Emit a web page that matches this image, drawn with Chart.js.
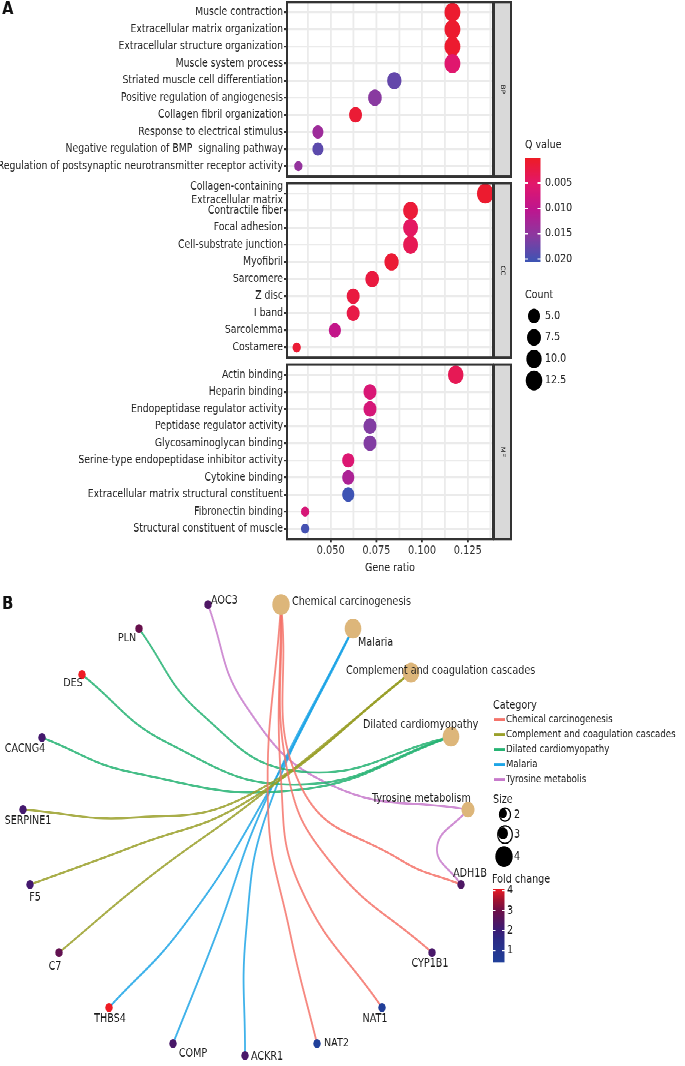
<!DOCTYPE html>
<html>
<head>
<meta charset="utf-8">
<script src="https://cdn.jsdelivr.net/npm/chart.js@4.4.1/dist/chart.umd.min.js"></script>
<style>
  html { margin: 0; padding: 0; background: #fff; overflow: hidden; }
  body { margin: 0; padding: 0; background: #fff; height: 1066px; }
  /* the original figure is stretched vertically by about 1.2 */
  #fig { position: relative; width: 685px; height: 888.33px; transform: scaleY(1.2); transform-origin: 0 0; }
  #chartA { position: absolute; left: 0; top: 0; }
  #chartB { position: absolute; left: 0; top: 483.33px; }
</style>
</head>
<body>
<div id="fig">
  <canvas id="chartA" width="685" height="485"></canvas>
  <canvas id="chartB" width="685" height="405"></canvas>
</div>
<script>
// ---------- Panel A: GO enrichment dot plot ----------
const bpTerms = ['Muscle contraction', 'Extracellular matrix organization', 'Extracellular structure organization',
  'Muscle system process', 'Striated muscle cell differentiation', 'Positive regulation of angiogenesis',
  'Collagen fibril organization', 'Response to electrical stimulus', 'Negative regulation of BMP  signaling pathway',
  'Regulation of postsynaptic neurotransmitter receptor activity'];
const bpRatio = [0.1166, 0.1166, 0.1166, 0.1166, 0.0848, 0.0742, 0.0636, 0.0430, 0.0430, 0.0323];
const bpCount = [11, 11, 11, 11, 8, 7, 6, 4, 4, 3];
const bpQ = [0.0008, 0.0008, 0.0008, 0.0055, 0.0180, 0.0155, 0.0012, 0.0135, 0.0185, 0.0145];

const ccTerms = [['Collagen-containing', 'Extracellular matrix'], 'Contractile fiber', 'Focal adhesion',
  'Cell-substrate junction', 'Myofibril', 'Sarcomere', 'Z disc', 'I band', 'Sarcolemma', 'Costamere'];
const ccRatio = [0.1346, 0.0937, 0.0937, 0.0937, 0.0833, 0.0727, 0.0623, 0.0623, 0.0523, 0.0314];
const ccCount = [13, 9, 9, 9, 8, 7, 6, 6, 5, 3];
const ccQ = [0.0008, 0.0015, 0.0045, 0.0035, 0.0012, 0.0020, 0.0020, 0.0025, 0.0095, 0.0012];

const mfTerms = ['Actin binding', 'Heparin binding', 'Endopeptidase regulator activity', 'Peptidase regulator activity',
  'Glycosaminoglycan binding', 'Serine-type endopeptidase inhibitor activity', 'Cytokine binding',
  'Extracellular matrix structural constituent', 'Fibronectin binding', 'Structural constituent of muscle'];
const mfRatio = [0.1184, 0.0715, 0.0715, 0.0715, 0.0715, 0.0596, 0.0596, 0.0596, 0.0360, 0.0360];
const mfCount = [10, 6, 6, 6, 6, 5, 5, 5, 3, 3];
const mfQ = [0.0035, 0.0065, 0.0070, 0.0160, 0.0160, 0.0060, 0.0120, 0.0205, 0.0068, 0.0200];

const facetNames = ['BP', 'CC', 'MF'];
const ratioTicks = [0.050, 0.075, 0.100, 0.125];
const qTicks = [0.005, 0.010, 0.015, 0.020];
const countTicks = [5.0, 7.5, 10.0, 12.5];

// ---------- Panel B: gene-concept network ----------
const genes = ['AOC3', 'PLN', 'DES', 'CACNG4', 'SERPINE1', 'F5', 'C7', 'THBS4', 'COMP', 'ACKR1', 'NAT2', 'NAT1', 'CYP1B1', 'ADH1B'];
const geneX = [208, 139, 82, 42, 23, 30, 59, 109, 173, 245, 317, 382, 432, 461];
const geneY = [605, 629, 675, 738, 810, 885, 953, 1008, 1044, 1056, 1044, 1008, 953, 885];
const foldChange = [2.4, 2.9, 4.1, 2.2, 2.2, 2.2, 2.8, 4.1, 2.3, 2.3, 0.4, 0.5, 2.3, 2.4];

const categories = ['Chemical carcinogenesis', 'Complement and coagulation cascades', 'Dilated cardiomyopathy', 'Malaria', 'Tyrosine metabolism'];
const categoryLegend = ['Chemical carcinogenesis', 'Complement and coagulation cascades', 'Dilated cardiomyopathy', 'Malaria', 'Tyrosine metabolis'];
const catX = [281, 411, 451, 353, 468];
const catY = [605, 673, 737, 629, 810];
const catSize = [4, 3, 3, 3, 2];
const sizeTicks = [2, 3, 4];
const foldTicks = [1, 2, 3, 4];

const edgeGene = ['NAT2', 'NAT1', 'CYP1B1', 'ADH1B', 'SERPINE1', 'F5', 'C7', 'PLN', 'DES', 'CACNG4', 'THBS4', 'COMP', 'ACKR1', 'AOC3', 'ADH1B'];
const edgeCat = [0, 0, 0, 0, 1, 1, 1, 2, 2, 2, 3, 3, 3, 4, 4];
const edgeVia = [
  [[290, 933], [268, 807]],
  [[300, 887], [281, 780]],
  [[330, 862], [287, 770]],
  [[400, 860], [300, 785]],
  [[133, 818], [250, 795]],
  [[133, 847], [250, 800]],
  [[150, 877], [255, 800]],
  [[200, 713], [300, 772]],
  [[167, 743], [300, 785]],
  [[133, 773], [300, 790]],
  [[183, 927], [260, 807]],
  [[217, 933], [263, 807]],
  [[246, 933], [268, 810]],
  [[245, 705], [330, 785]],
  [[437, 848]]
];

// ---------- styles ----------
const S = 1.2;
const FONT = '"DejaVu Sans", sans-serif';
Chart.defaults.font.family = FONT;
const qMin = 0.00005, qMax = 0.0206;
const qStops = [[0, '#EE1C25'], [0.25, '#E2176C'], [0.5, '#BD168F'], [0.75, '#8A3AA0'], [1, '#3C55B4']];
const foldMin = 0.4, foldMax = 4.1;
const foldStops = [[0, '#20409A'], [0.3, '#2B2C86'], [0.45, '#3D1B74'], [0.7, '#6C0F48'], [0.85, '#A3132F'], [1, '#EE1C24']];
const catColors = ['#F4736A', '#9AA02A', '#26B373', '#1DA5E6', '#C77ACB'];
const catFill = '#DDB67A';
const ROW0 = [0, 10.6, 21.2];
const EXP = 0.6;

function hexRgb(h) { return [1, 3, 5].map(i => parseInt(h.substr(i, 2), 16)); }
function gradColor(stops, t) {
  t = Math.max(0, Math.min(1, t));
  for (let i = 1; i < stops.length; i++) {
    if (t <= stops[i][0]) {
      const f = (t - stops[i - 1][0]) / (stops[i][0] - stops[i - 1][0]);
      const a = hexRgb(stops[i - 1][1]), b = hexRgb(stops[i][1]);
      return 'rgb(' + a.map((v, k) => Math.round(v + (b[k] - v) * f)).join(',') + ')';
    }
  }
  return stops[stops.length - 1][1];
}
const qColor = q => gradColor(qStops, (q - qMin) / (qMax - qMin));
const foldColor = v => gradColor(foldStops, (v - foldMin) / (foldMax - foldMin));
const dotRadius = c => 4.15 + 1.33 * Math.sqrt(Math.max(0, c - 3));
const catRadius = s => ({ 2: 6.5, 3: 8.3, 4: 8.7 })[s];
function alpha(hex, a) { const [r, g, b] = hexRgb(hex); return `rgba(${r},${g},${b},${a})`; }

// ---------- chart A ----------
const facets = [
  { terms: bpTerms, ratio: bpRatio, count: bpCount, q: bpQ },
  { terms: ccTerms, ratio: ccRatio, count: ccCount, q: ccQ },
  { terms: mfTerms, ratio: mfRatio, count: mfCount, q: mfQ }
];
const rowPos = [], rowLabels = [];
facets.forEach((f, k) => f.terms.forEach((t, i) => { rowPos.push(ROW0[k] + i); rowLabels.push(t); }));
const gridTicks = [];
ratioTicks.forEach(v => gridTicks.push(v - 0.0125, v));
gridTicks.push(ratioTicks[ratioTicks.length - 1] + 0.0125);
const isMajor = v => ratioTicks.some(m => Math.abs(m - v) < 1e-9);

const facetPlugin = {
  id: 'facets',
  beforeDatasetsDraw(chart) {
    const { ctx, chartArea: a, scales: { y } } = chart;
    ctx.save();
    ctx.fillStyle = '#fff';
    for (let k = 0; k < 2; k++) {
      const y0 = y.getPixelForValue(ROW0[k] + 9 + EXP), y1 = y.getPixelForValue(ROW0[k + 1] - EXP);
      ctx.fillRect(a.left - 1, y0, a.width + 2, y1 - y0);
    }
    ctx.restore();
  },
  afterDatasetsDraw(chart) {
    const { ctx, chartArea: a, scales: { y } } = chart;
    ctx.save();
    facetNames.forEach((name, k) => {
      const y0 = y.getPixelForValue(ROW0[k] - EXP), y1 = y.getPixelForValue(ROW0[k] + 9 + EXP);
      ctx.fillStyle = '#D9D9D9';
      ctx.fillRect(a.right + 1, y0, 17, y1 - y0);
      ctx.strokeStyle = '#333';
      ctx.lineWidth = 2;
      ctx.strokeRect(a.left, y0, a.width, y1 - y0);
      ctx.strokeRect(a.right + 1, y0, 17, y1 - y0);
      ctx.save();
      ctx.translate(a.right + 9.5, (y0 + y1) / 2);
      ctx.rotate(Math.PI / 2);
      ctx.fillStyle = '#1A1A1A';
      ctx.font = '6px ' + FONT;
      ctx.textAlign = 'center';
      ctx.textBaseline = 'middle';
      ctx.fillText(name, 0, 0);
      ctx.restore();
    });
    ctx.restore();
  },
  afterDraw(chart) {
    const ctx = chart.ctx;
    ctx.save();
    ctx.textBaseline = 'middle';
    ctx.fillStyle = '#111';
    ctx.font = 'bold 15px ' + FONT;
    ctx.fillText('A', 2, 10 / S);
    ctx.font = '9.5px ' + FONT;
    ctx.fillStyle = '#222';
    ctx.fillText('Q value', 525, 145 / S);
    const bx = 525, bw = 15.5, bt = 158 / S, bb = 262 / S;
    const g = ctx.createLinearGradient(0, bt, 0, bb);
    qStops.forEach(([t, c]) => g.addColorStop(t, c));
    ctx.fillStyle = g;
    ctx.fillRect(bx, bt, bw, bb - bt);
    qTicks.forEach(q => {
      const yy = bt + (q - qMin) / (qMax - qMin) * (bb - bt);
      ctx.strokeStyle = '#fff';
      ctx.lineWidth = 1;
      ctx.beginPath();
      ctx.moveTo(bx, yy); ctx.lineTo(bx + 3, yy);
      ctx.moveTo(bx + bw - 3, yy); ctx.lineTo(bx + bw, yy);
      ctx.stroke();
      ctx.fillStyle = '#222';
      ctx.fillText(q.toFixed(3), 545, yy);
    });
    ctx.fillText('Count', 525, 295 / S);
    countTicks.forEach((c, i) => {
      const yy = (316 + i * 21.5) / S;
      ctx.fillStyle = '#000';
      ctx.beginPath();
      ctx.arc(534, yy, dotRadius(c), 0, Math.PI * 2);
      ctx.fill();
      ctx.fillStyle = '#222';
      ctx.fillText(c.toFixed(1), 545, yy);
    });
    ctx.restore();
  }
};

new Chart(document.getElementById('chartA'), {
  type: 'scatter',
  data: {
    datasets: facets.map((f, k) => ({
      label: facetNames[k],
      data: f.ratio.map((v, i) => ({ x: v, y: ROW0[k] + i })),
      backgroundColor: f.q.map(qColor),
      borderWidth: 0,
      pointRadius: f.count.map(dotRadius),
      pointHoverRadius: f.count.map(dotRadius)
    }))
  },
  options: {
    responsive: false,
    animation: false,
    devicePixelRatio: 2,
    layout: { autoPadding: false, padding: { top: 2 / S, right: 192, left: 0, bottom: 0 } },
    plugins: { legend: { display: false }, tooltip: { enabled: false } },
    scales: {
      x: {
        type: 'linear', min: 0.0261, max: 0.1388,
        afterBuildTicks: s => { s.ticks = gridTicks.map(v => ({ value: v })); },
        afterFit: s => { s.height = 485 - 539 / S; s.paddingLeft = 0; s.paddingRight = 0; },
        ticks: { callback: v => isMajor(v) ? v.toFixed(3) : '', font: { size: 9.8 }, color: '#333', padding: 1, maxRotation: 0, autoSkip: false },
        grid: { color: '#EBEBEB', lineWidth: 1.8, tickLength: 3, tickColor: c => isMajor(c.tick.value) ? '#333' : 'rgba(0,0,0,0)' },
        border: { display: false },
        title: { display: true, text: 'Gene ratio', font: { size: 9.5 }, color: '#222', padding: { top: 0, bottom: 6 } }
      },
      y: {
        type: 'linear', reverse: true, min: -EXP, max: ROW0[2] + 9 + EXP,
        afterBuildTicks: s => { s.ticks = rowPos.map(v => ({ value: v })); },
        afterFit: s => { s.width = 287; s.paddingTop = 0; s.paddingBottom = 0; },
        ticks: { callback: (v, i) => rowLabels[i], font: { size: 9.3, lineHeight: 1.25 }, color: '#222', padding: 1, autoSkip: false },
        grid: { color: '#EBEBEB', lineWidth: 1.6, tickLength: 3, tickColor: '#333' },
        border: { display: false }
      }
    }
  },
  plugins: [facetPlugin]
});

// ---------- chart B ----------
const labelStyle = {
  AOC3: [3, -4, 'left'], PLN: [-12, 10, 'center'], DES: [-9, 9, 'center'], CACNG4: [-17, 11, 'center'],
  SERPINE1: [5, 11, 'center'], F5: [5, 13, 'center'], C7: [-4, 14, 'center'], THBS4: [1, 11, 'center'],
  COMP: [20, 10, 'center'], ACKR1: [6, 1, 'left'], NAT2: [7, 0, 'left'], NAT1: [-7, 11, 'center'],
  CYP1B1: [-2, 11, 'center'], ADH1B: [9, -11, 'center'],
  'Chemical carcinogenesis': [11, -3, 'left'], 'Complement and coagulation cascades': [-65, -2, 'left'],
  'Dilated cardiomyopathy': [-88, -12, 'left'], 'Malaria': [5, 14, 'left'], 'Tyrosine metabolism': [-96, -11, 'left']
};

const netPlugin = {
  id: 'net',
  afterDatasetsDraw(chart) {
    const { ctx, scales: { x, y } } = chart;
    const X = v => x.getPixelForValue(v), Y = v => y.getPixelForValue(v);
    ctx.save();
    ctx.textBaseline = 'middle';
    ctx.fillStyle = '#111';
    ctx.font = 'bold 15px ' + FONT;
    ctx.textAlign = 'left';
    ctx.fillText('B', 2, Y(605));
    ctx.font = '9.6px ' + FONT;
    ctx.fillStyle = '#1A1A1A';
    const put = (name, px, py) => {
      const [dx, dy, al] = labelStyle[name];
      ctx.textAlign = al;
      ctx.fillText(name, X(px + dx), Y(py + dy));
    };
    genes.forEach((gname, i) => put(gname, geneX[i], geneY[i]));
    categories.forEach((c, i) => put(c, catX[i], catY[i]));

    // legends
    ctx.textAlign = 'left';
    ctx.font = '9.6px ' + FONT;
    ctx.fillText('Category', 493, Y(706));
    ctx.font = '8.6px ' + FONT;
    categoryLegend.forEach((c, i) => {
      const yy = Y(720 + i * 15);
      ctx.strokeStyle = catColors[i];
      ctx.lineWidth = 2.2;
      ctx.beginPath(); ctx.moveTo(494, yy); ctx.lineTo(505, yy); ctx.stroke();
      ctx.fillText(c, 506, yy);
    });
    ctx.font = '9.6px ' + FONT;
    ctx.fillText('Size', 493, Y(800));
    const sizeY = [815, 835, 857];
    sizeTicks.forEach((s, i) => {
      const r = catRadius(s), cx = X(504), cy = Y(sizeY[i]);
      if (s < 4) {
        ctx.fillStyle = '#fff'; ctx.strokeStyle = '#000'; ctx.lineWidth = 1.2;
        ctx.beginPath(); ctx.arc(cx + 1, cy, r - 1, 0, Math.PI * 2); ctx.fill(); ctx.stroke();
        ctx.fillStyle = '#000';
        ctx.beginPath(); ctx.arc(cx - 1, cy - 1, r * 0.6, 0, Math.PI * 2); ctx.fill();
      } else {
        ctx.fillStyle = '#000';
        ctx.beginPath(); ctx.arc(cx, cy, r, 0, Math.PI * 2); ctx.fill();
      }
      ctx.fillStyle = '#1A1A1A';
      ctx.fillText(String(s), 514, cy);
    });
    ctx.fillText('Fold change', 492, Y(880));
    const bt = Y(889), bb = Y(963);
    const g = ctx.createLinearGradient(0, bt, 0, bb);
    foldStops.forEach(([t, c]) => g.addColorStop(1 - t, c));
    ctx.fillStyle = g;
    ctx.fillRect(493, bt, 11.5, bb - bt);
    foldTicks.forEach(v => {
      const yy = bt + (foldMax - v) / (foldMax - foldMin) * (bb - bt);
      ctx.strokeStyle = '#fff'; ctx.lineWidth = 1;
      ctx.beginPath(); ctx.moveTo(493, yy); ctx.lineTo(495.5, yy); ctx.moveTo(502, yy); ctx.lineTo(504.5, yy); ctx.stroke();
      ctx.fillStyle = '#1A1A1A';
      ctx.fillText(String(v), 507, yy);
    });
    ctx.restore();
  }
};

const edgeSets = edgeGene.map((gname, i) => {
  const gi = genes.indexOf(gname), ci = edgeCat[i];
  const pts = [{ x: geneX[gi], y: geneY[gi] }].concat(edgeVia[i].map(p => ({ x: p[0], y: p[1] })), [{ x: catX[ci], y: catY[ci] }]);
  return {
    type: 'line', label: gname + '-' + categories[ci], data: pts, order: 1,
    borderColor: alpha(catColors[ci], 0.85), borderWidth: 1.8, tension: 0.45,
    pointRadius: 0, fill: false, clip: false
  };
});

new Chart(document.getElementById('chartB'), {
  type: 'scatter',
  data: {
    datasets: edgeSets.concat([
      {
        label: 'categories', order: 0,
        data: catX.map((v, i) => ({ x: v, y: catY[i] })),
        backgroundColor: catFill, borderWidth: 0,
        pointRadius: catSize.map(catRadius), pointHoverRadius: catSize.map(catRadius)
      },
      {
        label: 'genes', order: 0,
        data: geneX.map((v, i) => ({ x: v, y: geneY[i] })),
        backgroundColor: foldChange.map(foldColor), borderWidth: 0,
        pointRadius: 3.7, pointHoverRadius: 3.7
      }
    ])
  },
  options: {
    responsive: false,
    animation: false,
    devicePixelRatio: 2,
    layout: { autoPadding: false, padding: 0 },
    plugins: { legend: { display: false }, tooltip: { enabled: false } },
    scales: {
      x: { type: 'linear', min: 0, max: 685, display: false },
      y: { type: 'linear', min: 580, max: 1066, reverse: true, display: false }
    }
  },
  plugins: [netPlugin]
});
</script>
</body>
</html>
